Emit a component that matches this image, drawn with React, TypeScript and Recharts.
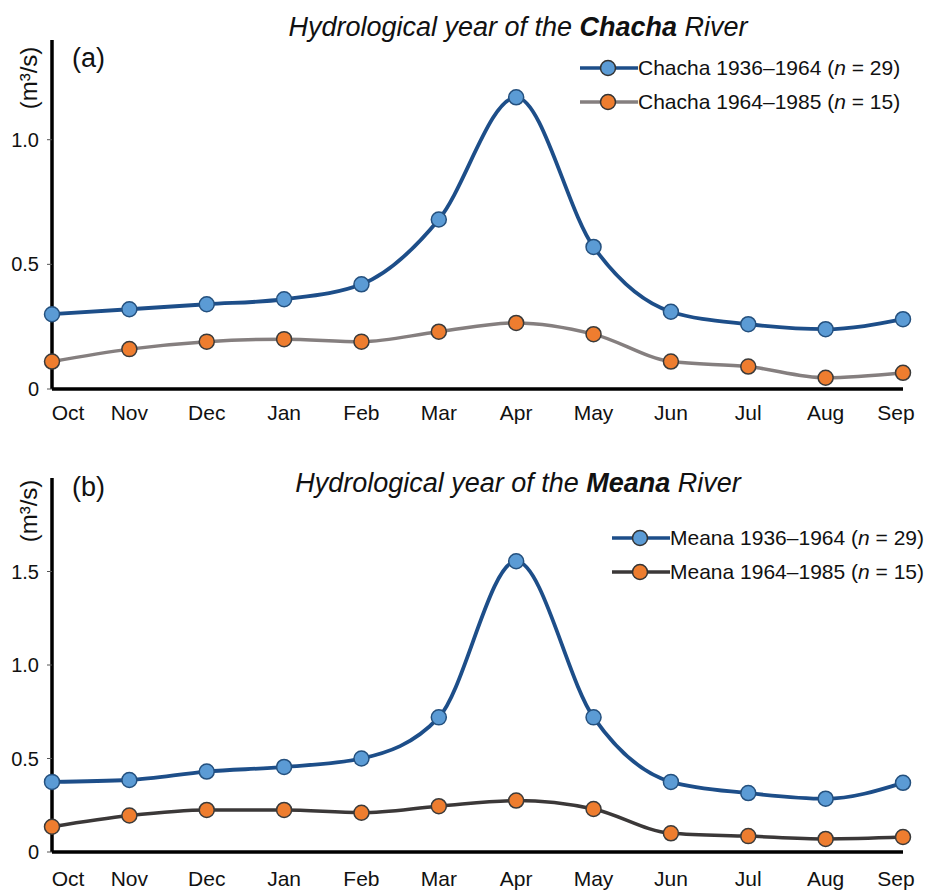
import { Label, Line, LineChart, XAxis, YAxis } from 'recharts';

const months = ['Oct', 'Nov', 'Dec', 'Jan', 'Feb', 'Mar', 'Apr', 'May', 'Jun', 'Jul', 'Aug', 'Sep'];

const chachaEarly = [0.3, 0.32, 0.34, 0.36, 0.42, 0.68, 1.17, 0.57, 0.31, 0.26, 0.24, 0.28];
const chachaLate = [0.11, 0.16, 0.19, 0.2, 0.19, 0.23, 0.265, 0.22, 0.11, 0.09, 0.045, 0.065];
const meanaEarly = [0.375, 0.385, 0.43, 0.455, 0.5, 0.72, 1.555, 0.72, 0.375, 0.315, 0.285, 0.37];
const meanaLate = [0.135, 0.195, 0.225, 0.225, 0.21, 0.245, 0.275, 0.23, 0.1, 0.085, 0.07, 0.08];

const chachaTicks = [0, 0.5, 1.0];
const meanaTicks = [0, 0.5, 1.0, 1.5];

const FONT = '"Liberation Sans", Arial, Helvetica, sans-serif';
const BLUE_LINE = '#1d4e89';
const BLUE_DOT = '#5b9bd5';
const ORANGE_DOT = '#ee7d2f';

const fmtTick = (v: number) => (v === 0 ? '0' : v.toFixed(1));

// first and last month labels sit slightly inside the axis ends, as in the original figure
const MonthTick = ({ x, y, payload, index }: any) => {
  const shift = index === 0 ? 16 : index === months.length - 1 ? -7 : 0;
  return (
    <text x={x + shift} y={y} dy="0.71em" textAnchor="middle" fontSize={21} fill="#111">
      {payload.value}
    </text>
  );
};

interface PanelProps {
  river: string;
  tag: string;
  early: number[];
  late: number[];
  lateColor: string;
  domain: [number, number];
  ticks: number[];
  height: number;
  top: number;
  plotTop: number;
  axisH: number;
  labelGap: number;
  unitDy: number;
  legendLeft: number;
  legendTop: number;
  titleTop: number;
  tagTop: number;
}

function Panel(p: PanelProps) {
  const data = months.map((m, i) => ({ month: m, early: p.early[i], late: p.late[i] }));
  const items = [
    { label: '1936–1964', n: '29', line: BLUE_LINE, dot: BLUE_DOT },
    { label: '1964–1985', n: '15', line: p.lateColor, dot: ORANGE_DOT },
  ];

  return (
    <div style={{ position: 'absolute', left: 0, top: p.top, width: 927, height: p.height, fontFamily: FONT, color: '#111' }}>
      <LineChart
        width={927}
        height={p.height}
        data={data}
        margin={{ top: p.plotTop, right: 24, left: 0, bottom: 0 }}
        style={{ fontFamily: FONT }}
      >
        <XAxis
          dataKey="month"
          height={p.axisH}
          axisLine={{ stroke: '#000', strokeWidth: 3.5 }}
          tickLine={false}
          tickSize={6}
          tickMargin={p.labelGap}
          interval={0}
          tick={<MonthTick />}
        />
        <YAxis
          width={52}
          domain={p.domain}
          ticks={p.ticks}
          tickFormatter={fmtTick}
          axisLine={{ stroke: '#000', strokeWidth: 3.5 }}
          tickLine={{ stroke: '#555', strokeWidth: 1 }}
          tickSize={5}
          tickMargin={8}
          tick={{ fill: '#111', fontSize: 20 }}
        >
          <Label
            content={({ viewBox }: any) => {
              const cx = viewBox.x + 28;
              const cy = viewBox.y + p.unitDy;
              return (
                <text
                  x={cx}
                  y={cy}
                  transform={`rotate(-90 ${cx} ${cy})`}
                  textAnchor="middle"
                  dominantBaseline="central"
                  fontSize={24}
                  fill="#111"
                >
                  (m³/s)
                </text>
              );
            }}
          />
        </YAxis>
        <Line
          dataKey="late"
          type="monotone"
          stroke={p.lateColor}
          strokeWidth={3.5}
          dot={{ r: 7.5, fill: ORANGE_DOT, stroke: '#3a3a3a', strokeWidth: 1.5 }}
          isAnimationActive={false}
        />
        <Line
          dataKey="early"
          type="monotone"
          stroke={BLUE_LINE}
          strokeWidth={3.8}
          dot={{ r: 7.5, fill: BLUE_DOT, stroke: '#24507e', strokeWidth: 1.5 }}
          isAnimationActive={false}
        />
      </LineChart>
      <div
        style={{
          position: 'absolute',
          left: 0,
          width: 1036,
          top: p.titleTop,
          textAlign: 'center',
          fontStyle: 'italic',
          fontSize: 27,
          lineHeight: '30px',
        }}
      >
        Hydrological year of the <b>{p.river}</b> River
      </div>
      <div style={{ position: 'absolute', left: 72, top: p.tagTop, fontSize: 27, lineHeight: '30px' }}>
        {p.tag}
      </div>
      <div style={{ position: 'absolute', left: p.legendLeft, top: p.legendTop, fontSize: 21 }}>
        {items.map((it) => (
          <div key={it.label} style={{ display: 'flex', alignItems: 'center', height: 34 }}>
            <svg width={58} height={20} style={{ display: 'block' }}>
              <line x1={0} y1={10} x2={58} y2={10} stroke={it.line} strokeWidth={3.5} />
              <circle cx={28} cy={10} r={7.5} fill={it.dot} stroke="#333" strokeWidth={1.5} />
            </svg>
            <span style={{ whiteSpace: 'nowrap' }}>
              {p.river} {it.label} (<i>n</i> = {it.n})
            </span>
          </div>
        ))}
      </div>
    </div>
  );
}

export default function App() {
  return (
    <div style={{ position: 'absolute', left: 0, top: 0, width: 927, height: 893, background: '#fff' }}>
      <Panel
        river="Chacha"
        tag="(a)"
        early={chachaEarly}
        late={chachaLate}
        lateColor="#857f7f"
        domain={[0, 1.4]}
        ticks={chachaTicks}
        height={440}
        top={0}
        plotTop={40}
        axisH={51}
        labelGap={10}
        unitDy={38}
        legendLeft={580}
        legendTop={51}
        titleTop={12}
        tagTop={43}
      />
      <Panel
        river="Meana"
        tag="(b)"
        early={meanaEarly}
        late={meanaLate}
        lateColor="#3b3838"
        domain={[0, 2]}
        ticks={meanaTicks}
        height={453}
        top={440}
        plotTop={38}
        axisH={41}
        labelGap={13}
        unitDy={33}
        legendLeft={612}
        legendTop={81}
        titleTop={28}
        tagTop={32}
      />
    </div>
  );
}
